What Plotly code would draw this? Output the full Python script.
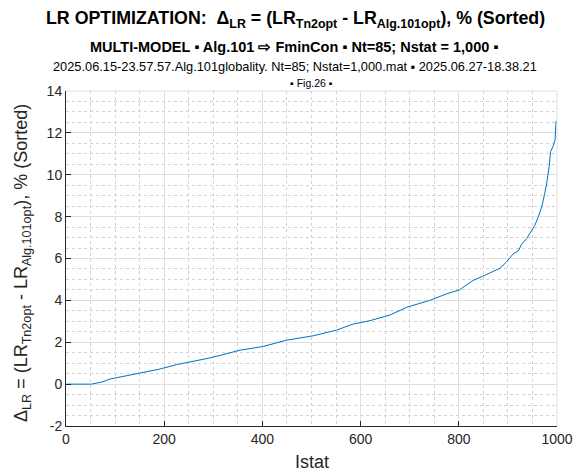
import plotly.graph_objects as go

istat = [1, 52, 75, 89, 123, 157, 191, 225, 259, 293, 333, 354, 402, 449, 504, 551,
         585, 619, 660, 694, 741, 775, 801, 829, 857, 884, 897, 911, 921, 928, 938,
         948, 955, 962, 969, 975, 979, 984, 987, 992, 996, 998, 1000]
delta_lr = [0, 0, 0.11, 0.24, 0.40, 0.56, 0.72, 0.93, 1.09, 1.25, 1.49, 1.62, 1.80, 2.10,
            2.31, 2.58, 2.87, 3.03, 3.30, 3.67, 4.00, 4.31, 4.50, 4.95, 5.24, 5.54, 5.83,
            6.23, 6.36, 6.68, 6.95, 7.35, 7.59, 8.00, 8.47, 9.11, 9.59, 10.39, 11.11,
            11.35, 11.67, 12.55, 12.55]

x_ticks = [0, 200, 400, 600, 800, 1000]
x_tick_labels = ["0", "200", "400", "600", "800", "1000"]
y_ticks = [-2, 0, 2, 4, 6, 8, 10, 12, 14]
y_tick_labels = ["-2", "0", "2", "4", "6", "8", "10", "12", "14"]

FONT = "Arial, Liberation Sans, sans-serif"
TXT = "#262626"

fig = go.Figure()
fig.add_trace(go.Scatter(x=istat, y=delta_lr, mode="lines",
                         line=dict(color="#0072BD", width=1), showlegend=False))

L, R, T, B = 66, 19, 91, 47
W, H = 576, 473
pw, ph = W - L - R, H - T - B

def py(ypix):
    return (H - B - ypix) / ph

def px(xpix):
    return (xpix - L) / pw

axis_common = dict(
    showline=True, linecolor="#262626", linewidth=1, mirror=False,
    ticks="inside", ticklen=5, tickcolor="#262626", tickwidth=1,
    showgrid=True, gridcolor="#dfdfdf", gridwidth=1,
    zeroline=False, automargin=False,
    tickfont=dict(family=FONT, size=14, color=TXT),
)

fig.update_xaxes(range=[0, 1000], tickvals=x_ticks, ticktext=x_tick_labels,
                 minor=dict(dtick=50, showgrid=True, gridcolor="#d2d2d2", griddash="dot", ticks=""),
                 **axis_common)
fig.update_yaxes(range=[-2, 14], tickvals=y_ticks, ticktext=y_tick_labels,
                 minor=dict(dtick=0.5, showgrid=True, gridcolor="#d2d2d2", griddash="dot", ticks=""),
                 **axis_common)

anns = [
    dict(text="<b>LR OPTIMIZATION:  Δ<sub>LR</sub> = (LR<sub>Tn2opt</sub> - LR<sub>Alg.101opt</sub>), % (Sorted)</b>",
         x=px(295), y=py(20), size=17.8),
    dict(text="<b>MULTI-MODEL ▪ Alg.101 ⇨ FminCon ▪ Nt=85; Nstat = 1,000 ▪</b>",
         x=px(294), y=py(47), size=14.5),
    dict(text="2025.06.15-23.57.57.Alg.101globality. Nt=85; Nstat=1,000.mat ▪ 2025.06.27-18.38.21",
         x=px(295), y=py(67), size=12.8),
    dict(text="▪ Fig.26 ▪", x=px(311), y=py(83), size=10.5),
]
for a in anns:
    fig.add_annotation(text=a["text"], x=a["x"], y=a["y"], xref="paper", yref="paper",
                       xanchor="center", yanchor="middle", showarrow=False,
                       font=dict(family=FONT, size=a["size"], color="#000000"))

fig.add_annotation(text="Δ<sub>LR</sub> = (LR<sub>Tn2opt</sub> - LR<sub>Alg.101opt</sub>), % (Sorted)",
                   x=px(22), y=py(263), xref="paper", yref="paper", textangle=-90,
                   xanchor="center", yanchor="middle", showarrow=False,
                   font=dict(family=FONT, size=18, color=TXT))
fig.add_annotation(text="Istat", x=px(312), y=py(462), xref="paper", yref="paper",
                   xanchor="center", yanchor="middle", showarrow=False,
                   font=dict(family=FONT, size=18, color=TXT))

# light top/right box edges
fig.add_shape(type="line", xref="paper", yref="paper", x0=0, x1=1, y0=1, y1=1,
              line=dict(color="#dfdfdf", width=1))
fig.add_shape(type="line", xref="paper", yref="paper", x0=1, x1=1, y0=0, y1=1,
              line=dict(color="#dfdfdf", width=1))

fig.update_layout(width=W, height=H, margin=dict(l=L, r=R, t=T, b=B),
                  plot_bgcolor="white", paper_bgcolor="white",
                  font=dict(family=FONT, color=TXT))

fig.write_html("out.html")
